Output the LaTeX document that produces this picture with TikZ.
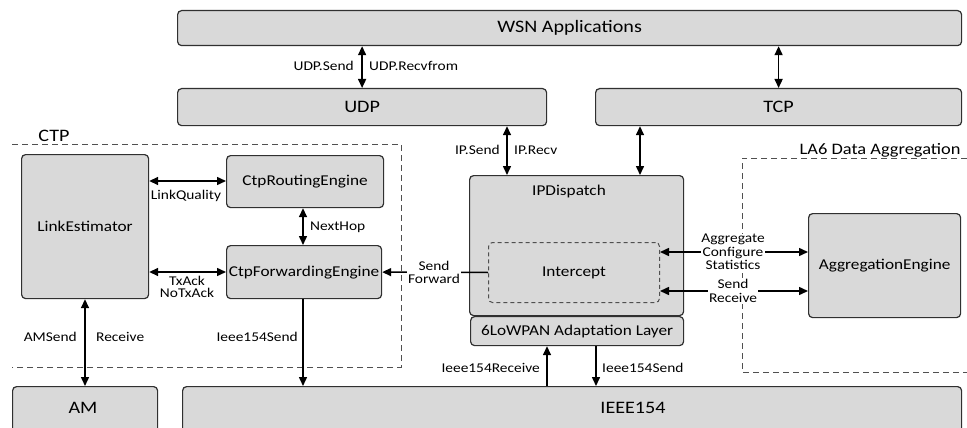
\documentclass[tikz,border=0pt]{standalone}
\usepackage{fontspec}
\setmainfont{Carlito}[FakeStretch=1.15]
\usetikzlibrary{arrows.meta}
\definecolor{boxgray}{HTML}{D9D9D9}
\definecolor{edgegray}{HTML}{303030}
\definecolor{dashgray}{HTML}{505050}
\tikzset{
  blk/.style={draw=edgegray, line width=1.2pt, rounded corners=4pt, fill=boxgray, inner sep=0pt, anchor=north west, font=\fontsize{15}{17}\selectfont},
  big/.style={font=\fontsize{17.5}{20}\selectfont},
  lbl/.style={inner sep=1pt, font=\fontsize{13.4}{14}\selectfont, align=center},
  tip/.style={-{Triangle[length=9pt,width=8pt]}, line width=1.5pt},
  dbl/.style={{Triangle[length=9pt,width=8pt]}-{Triangle[length=9pt,width=8pt]}, line width=1.5pt},
  grp/.style={draw=dashgray, line width=1pt, dash pattern=on 6pt off 4pt},
}
\begin{document}
\begin{tikzpicture}[x=1pt,y=-1pt]
\useasboundingbox (0,0) rectangle (967,428);
% boxes
\node[blk,big,minimum width=784pt,minimum height=35pt] (wsn) at (177,10) {WSN Applications};
\node[blk,big,minimum width=369pt,minimum height=37pt] (udp) at (177,88) {UDP};
\node[blk,big,minimum width=366pt,minimum height=37pt] (tcp) at (595,88) {TCP};
\node[blk,minimum width=127pt,minimum height=144pt] (le) at (21,154) {LinkEstimator};
\node[blk,minimum width=157pt,minimum height=52pt] (cre) at (226,155) {CtpRoutingEngine};
\node[blk,minimum width=155pt,minimum height=53pt] (cfe) at (226,245) {CtpForwardingEngine};
\node[blk,minimum width=214pt,minimum height=140pt] (ipd) at (469,175) {};
\node[font=\fontsize{15}{17}\selectfont] (ipdtxt) at (569,192) {IPDispatch};
\node[blk,minimum width=213pt,minimum height=29pt] (low) at (470,316) {6LoWPAN Adaptation Layer};
\node[blk,draw=dashgray,line width=1pt,dash pattern=on 4pt off 3pt,minimum width=171pt,minimum height=60pt] (icp) at (488,242) {Intercept};
\node[blk,minimum width=152pt,minimum height=104pt] (agg) at (808,213) {AggregationEngine};
\node[blk,minimum width=145pt,minimum height=46pt] (am) at (12,386) {};
\node[big] (amtxt) at (83,408) {AM};
\node[blk,minimum width=779pt,minimum height=50pt] (ieee) at (182,386) {};
\node[big] (ieeetxt) at (633,408) {IEEE154};
% groups
\draw[grp] (12,144) -- (401,144) -- (401,367) -- (12,367);
\node[big] (ctp) at (54,136) {CTP};
\draw[grp] (967,158) -- (742,158) -- (742,372) -- (967,372);
\node[font=\fontsize{16}{18}\selectfont,anchor=east] (la6) at (964,150) {LA6 Data Aggregation};
% coordinates
\coordinate (ipx) at (507,0);
\coordinate (tcx) at (640,0);
\coordinate (lqy) at (0,181);
\coordinate (txy) at (0,272);
\coordinate (fwx) at (303,0);
\coordinate (amx) at (85,0);
\coordinate (rcx) at (547,0);
\coordinate (sdx) at (596,0);
\coordinate (agy) at (0,252);
\coordinate (sry) at (0,291);
% connectors
\draw[dbl] (udp.north |- wsn.south) -- (udp.north);
\node[lbl,anchor=east] (l1) at (355,66) {UDP.Send};
\node[lbl,anchor=west] (l2) at (368,66) {UDP.Recvfrom};
\draw[dbl] (tcp.north |- wsn.south) -- (tcp.north);
\draw[dbl] (udp.south -| ipx) -- (ipd.north -| ipx);
\node[lbl,anchor=east] (l3) at (501,150) {IP.Send};
\node[lbl,anchor=west] (l4) at (513,150) {IP.Recv};
\draw[dbl] (tcp.south -| tcx) -- (ipd.north -| tcx);
\draw[dbl] (le.east |- lqy) -- (cre.west |- lqy);
\node[lbl] (l5) at (186,196) {LinkQuality};
\draw[dbl] (le.east |- txy) -- (cfe.west |- txy);
\node[lbl] (l6) at (187,287) {TxAck\\[-2pt]NoTxAck};
\draw[dbl] (cre.south -| fwx) -- (cfe.north -| fwx);
\node[lbl,anchor=west] (l7) at (309,227) {NextHop};
\draw[tip] (cfe.south -| fwx) -- (ieee.north -| fwx);
\node[lbl,anchor=east] (l8) at (299,337) {Ieee154Send};
\draw[dbl] (le.south -| amx) -- (am.north -| amx);
\node[lbl,anchor=east] (l9) at (78,337) {AMSend};
\node[lbl,anchor=west] (l10) at (95,337) {Receive};
\draw[tip] (icp.west) -- (cfe.east);
\node[lbl,fill=white] (l11) at (434,272) {Send\\[-1pt]Forward};
\draw[dbl] (icp.east |- agy) -- (agg.west |- agy);
\node[lbl,fill=white,inner sep=0.5pt] (l12) at (733,252) {Aggregate\\[-0.5pt]Configure\\[-0.5pt]Statistics};
\draw[dbl] (icp.east |- sry) -- (agg.west |- sry);
\node[lbl,fill=white] (l13) at (733,291) {Send\\[0pt]Receive};
\draw[tip] (ieee.north -| rcx) -- (low.south -| rcx);
\node[lbl,anchor=east] (l14) at (541,368) {Ieee154Receive};
\draw[tip] (low.south -| sdx) -- (ieee.north -| sdx);
\node[lbl,anchor=west] (l15) at (601,368) {Ieee154Send};
\end{tikzpicture}
\end{document}
